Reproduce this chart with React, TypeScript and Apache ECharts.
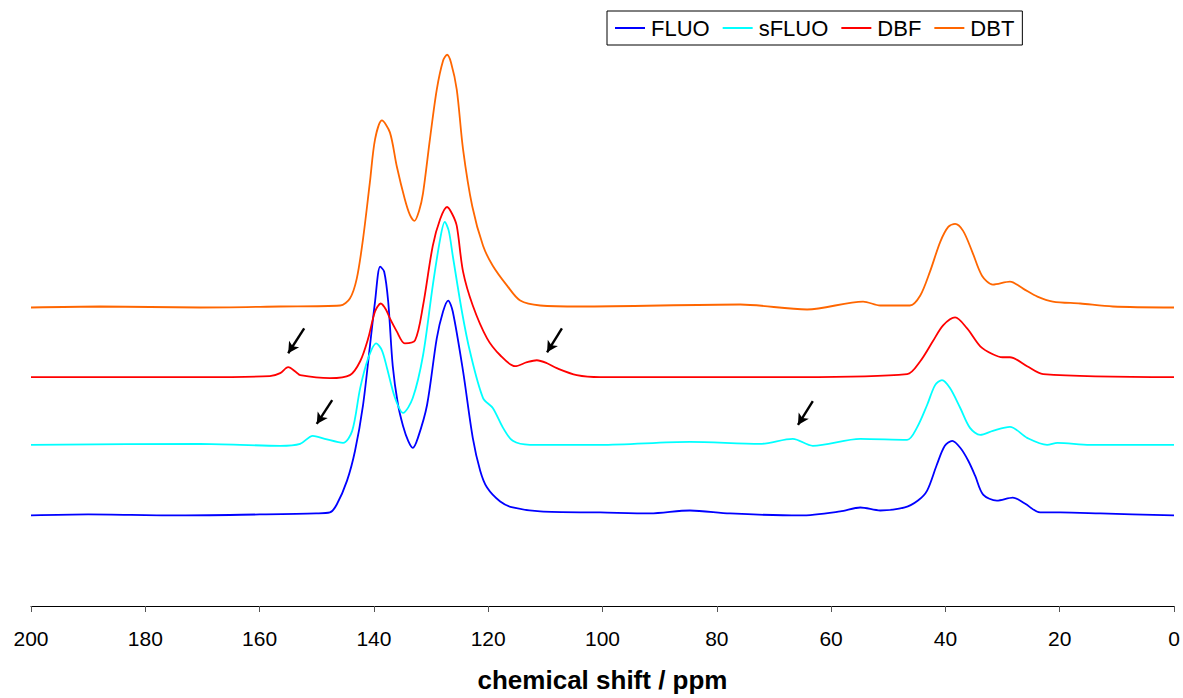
import React, { useEffect, useRef } from "react";
import * as echarts from "echarts";

// ---- data (ppm, intensity above each trace's own baseline) ----
const seriesNames = ["FLUO", "sFLUO", "DBF", "DBT"];
const seriesColors = ["#0000FF", "#00FFFF", "#FF0000", "#FF6600"];
const baselineOffsets = [91, 162, 230, 300];

const fluo: [number, number][] = [
  [200, 0], [190, 1], [175, 0], [160, 1], [150.1, 2], [147.7, 3], [146.5, 11], [144.7, 35],
  [143.3, 65], [141.9, 111], [140.7, 170], [139.8, 215], [138.9, 250], [138.2, 245], [137.5, 215],
  [136.7, 150], [135.8, 112], [134.9, 90], [134.0, 75], [133.2, 68], [132.3, 78], [130.7, 111],
  [129.0, 178], [127.9, 205], [127.0, 216], [126.2, 205], [124.4, 145], [122.7, 78], [121.4, 45],
  [120.2, 28], [117.9, 14], [115.7, 8], [110.9, 4], [100.4, 3], [91.7, 2], [84.7, 5], [77.7, 2],
  [65.4, 0], [58.4, 4], [54.9, 8], [51.4, 5], [47.1, 8], [44.8, 15], [43.2, 25], [41.5, 51],
  [40.1, 70], [38.8, 75], [37.4, 68], [36.0, 55], [34.8, 40], [33.4, 21], [31.0, 15], [28.2, 18],
  [26.1, 12], [23.4, 3], [19.9, 3], [12.9, 2], [0, 0],
];

const sfluo: [number, number][] = [
  [200, 0], [170.4, 1], [156.4, -1], [152.9, 1], [150.7, 9], [148.6, 6], [145.4, 2], [143.8, 14],
  [142.4, 57], [141.0, 87], [139.6, 102], [138.6, 95], [137.7, 77], [136.3, 47], [134.9, 32],
  [133.2, 47], [131.4, 90], [129.7, 160], [128.4, 207], [127.6, 224], [126.9, 215], [126.2, 190],
  [124.6, 134], [123.2, 94], [120.9, 47], [119.2, 37], [117.4, 17], [115.7, 4], [112.7, 0],
  [100.4, 0], [84.7, 3], [72.4, 1], [66.7, 6], [63.2, -1], [54.9, 6], [46.7, 5], [45.0, 17],
  [43.2, 40], [41.8, 60], [40.6, 65], [39.2, 57], [37.4, 37], [35.7, 17], [33.9, 10], [31.7, 14],
  [28.7, 18], [25.7, 7], [22.2, 0], [20.4, 2], [14.7, 0], [0, 0],
];

const dbf: [number, number][] = [
  [200, 0], [170.4, 0], [158.2, 1], [156.4, 4], [155.0, 10], [153.6, 5], [152.9, 2], [147.7, -1],
  [144.2, 2], [142.4, 16], [141.0, 39], [139.8, 66], [138.8, 74], [137.9, 68], [137.2, 59],
  [136.0, 46], [134.6, 34], [132.8, 37], [131.4, 72], [129.7, 132], [128.4, 159], [127.2, 171],
  [126.3, 164], [125.5, 152], [124.4, 106], [122.7, 72], [120.2, 39], [117.9, 22], [115.3, 11],
  [113.2, 15], [111.5, 17], [109.7, 14], [108.0, 9], [104.5, 2], [100.4, 0], [65.4, 0],
  [46.7, 3], [44.4, 16], [42.2, 36], [40.4, 52], [38.3, 60], [36.2, 49], [33.9, 31], [31.7, 23],
  [30.0, 20], [28.7, 20], [25.7, 11], [22.9, 3], [0, 0],
];

const dbt: [number, number][] = [
  [200, 0], [187.9, 1], [170.4, 0], [156.4, 1], [145.9, 2], [144.2, 9], [143.0, 29], [141.9, 69],
  [140.7, 126], [139.8, 169], [138.6, 188], [137.2, 176], [136.0, 142], [134.6, 109], [133.7, 93],
  [132.9, 87], [132.1, 97], [131.4, 115], [130.2, 169], [129.0, 219], [127.9, 248], [127.2, 254],
  [126.5, 246], [125.5, 219], [124.4, 159], [122.8, 102], [120.9, 62], [119.2, 42], [116.7, 22],
  [114.4, 7], [110.9, 2], [103.9, 1], [75.9, 3], [64.2, -2], [54.4, 6], [51.4, 2], [46.2, 2],
  [44.4, 12], [42.7, 36], [40.9, 66], [39.5, 81], [38.3, 84], [36.9, 77], [35.3, 56], [33.6, 32],
  [31.7, 23], [28.7, 26], [26.4, 19], [23.9, 11], [21.2, 6], [16.4, 4], [10.7, 1], [0, 0],
];

const spectra = [fluo, sfluo, dbf, dbt];

// annotation arrows (tail -> head), in (ppm, plot value); attached to series index
const arrowTails: [number, number][] = [[152.2, 279], [107.1, 279], [147.3, 207], [63.2, 206]];
const arrowHeads: [number, number][] = [[155.0, 254], [109.7, 255], [150.0, 183], [65.8, 182]];
const arrowSeries = [2, 2, 1, 1];

const xTicks = { min: 0, max: 200, interval: 20 };
const xTitle = "chemical shift / ppm";

const FONT = "'Liberation Sans', Arial, Helvetica, sans-serif";

export default function App() {
  const ref = useRef<HTMLDivElement>(null);
  useEffect(() => {
    document.body.style.margin = "0";
    if (!ref.current) return;
    const chart = echarts.init(ref.current, undefined, { renderer: "svg" });

    const series = spectra.map((pts, i) => {
      const arrows = arrowSeries
        .map((s, k) => (s === i ? k : -1))
        .filter((k) => k >= 0)
        .map((k) => [{ coord: arrowTails[k] }, { coord: arrowHeads[k] }]);
      return {
        name: seriesNames[i],
        type: "line",
        data: pts.map(([x, y]) => [x, y + baselineOffsets[i]]),
        showSymbol: false,
        symbol: "none",
        smooth: 0.3,
        lineStyle: { color: seriesColors[i], width: 1.8 },
        itemStyle: { color: seriesColors[i] },
        z: 2 + i,
        silent: true,
        markLine: arrows.length
          ? {
              silent: true,
              symbol: ["none", "arrow"],
              symbolSize: [9, 11],
              label: { show: false },
              lineStyle: { color: "#000", width: 2.4, type: "solid" },
              emphasis: { disabled: true },
              data: arrows,
            }
          : undefined,
      };
    });

    chart.setOption({
      animation: false,
      backgroundColor: "#fff",
      textStyle: { fontFamily: FONT },
      grid: { left: 31, right: 9, top: 9, bottom: 89, containLabel: false },
      legend: {
        data: seriesNames,
        left: 607,
        top: 11,
        orient: "horizontal",
        padding: [6, 8, 6, 8],
        itemGap: 13,
        itemWidth: 30,
        itemHeight: 2,
        icon: "rect",
        borderColor: "#000",
        borderWidth: 1,
        textStyle: { fontSize: 22, color: "#000", fontFamily: FONT, padding: [0, 0, 0, 1] },
        selectedMode: false,
      },
      xAxis: {
        type: "value",
        inverse: true,
        min: xTicks.min,
        max: xTicks.max,
        interval: xTicks.interval,
        name: xTitle,
        nameLocation: "middle",
        nameGap: 61,
        nameTextStyle: { fontSize: 26, fontWeight: "bold", color: "#000", fontFamily: FONT },
        axisLine: { show: true, onZero: false, lineStyle: { color: "#000", width: 1 } },
        axisTick: { show: true, length: 6, lineStyle: { color: "#555" } },
        axisLabel: { fontSize: 21, color: "#000", margin: 22, fontFamily: FONT },
        splitLine: { show: false },
      },
      yAxis: {
        type: "value",
        min: 0,
        max: 600,
        show: false,
      },
      series,
    });
    return () => chart.dispose();
  }, []);
  return <div ref={ref} style={{ width: 1183, height: 698 }} />;
}
